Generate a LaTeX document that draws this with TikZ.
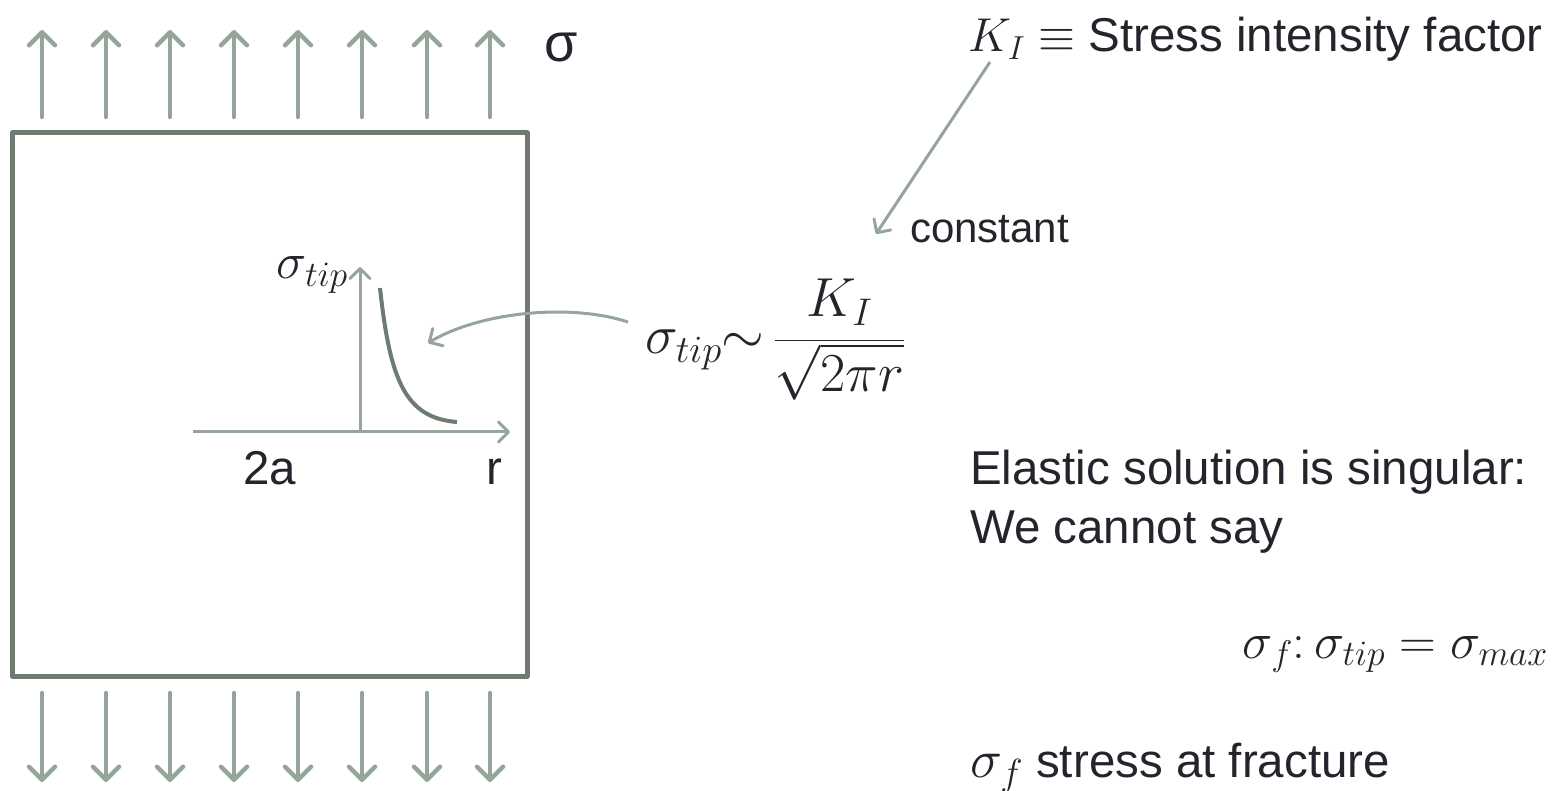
\RequirePackage{fix-cm}
\documentclass[tikz,border=0pt]{standalone}
\usepackage[no-math]{fontspec}
\setmainfont{Liberation Sans}
\usetikzlibrary{arrows.meta}
\definecolor{arrowc}{HTML}{95A59A}
\definecolor{boxc}{HTML}{6E7B70}
\definecolor{txt}{HTML}{24242C}
\tikzset{
  loadarrow/.style={draw=arrowc, line width=4.5pt, line cap=round,
    -{Straight Barb[length=13pt, width=26pt, round]}},
  thinarrow/.style={draw=arrowc, line width=3pt,
    -{Straight Barb[length=10pt, width=20pt, round]}},
  txtnode/.style={inner sep=0pt, text=txt, font=\fontsize{47.5}{56}\selectfont},
}
\begin{document}
\begin{tikzpicture}[x=1pt,y=-1pt]
\useasboundingbox (0,0) rectangle (1564,791);
% specimen
\draw[boxc, line width=5pt, line join=round] (12,133) rectangle (527,676);
% load arrows
\foreach \i/\x in {1/42,2/106,3/170,4/234,5/298,6/362,7/427,8/490}{
  \coordinate (tb\i) at (\x,117);
  \coordinate (tt\i) at (\x,30);
  \coordinate (bt\i) at (\x,693);
  \coordinate (bb\i) at (\x,782);
  \draw[loadarrow] (tb\i) -- (tt\i);
  \draw[loadarrow] (bt\i) -- (bb\i);
}
\node[txtnode, anchor=base, font=\fontsize{54}{60}\selectfont] (sig) at (561,62) {σ};
% plot
\coordinate (hx0) at (193,432);
\coordinate (hx1) at (510,432);
\coordinate (vy0) at (360,432);
\coordinate (vy1) at (360,267);
\draw[thinarrow] (hx0) -- (hx1);
\draw[thinarrow] (vy0) -- (vy1);
\coordinate (c0) at (380,288);
\coordinate (c1) at (457,422);
\draw[boxc, line width=4pt] (c0) .. controls (390,380) and (405,418) .. (c1);
\node[txtnode, anchor=base east, font=\fontsize{51}{56}\selectfont] (sigtip) at (348,279) {$\sigma_{tip}$};
\node[txtnode, anchor=base] (twoa) at (270,485) {2a};
\node[txtnode, anchor=base] (rlab) at (494,485) {r};
% formula
\node[txtnode, anchor=base west, font=\fontsize{55}{60}\selectfont] (form) at (645,354)
  {$\sigma_{tip}{\sim}\,\displaystyle\frac{K_I}{\sqrt{2\pi r}}$};
\coordinate (fa) at (628,322);
\coordinate (fb) at (428,343);
\draw[thinarrow] (fa) .. controls (570,303) and (480,312) .. (fb);
% K_I
\node[txtnode, anchor=base west] (ki) at (968,52) {$K_I\equiv$ Stress intensity factor};
\coordinate (ka) at (990,62);
\coordinate (kb) at (876,234);
\draw[thinarrow] (ka) -- (kb);
\node[txtnode, anchor=base west, font=\fontsize{42}{48}\selectfont] (const) at (910,243) {constant};
% right texts
\node[txtnode, anchor=base west] (el1) at (970,485) {Elastic solution is singular:};
\node[txtnode, anchor=base west] (el2) at (970,543) {We cannot say};
\node[txtnode, anchor=base east, font=\fontsize{51}{56}\selectfont] (crit) at (1548,658) {$\sigma_f{:}\,\sigma_{tip}=\sigma_{max}$};
\node[txtnode, anchor=base west] (sf) at (970,777) {{\fontsize{54}{60}\selectfont$\sigma_f$} stress at fracture};
\end{tikzpicture}
\end{document}
